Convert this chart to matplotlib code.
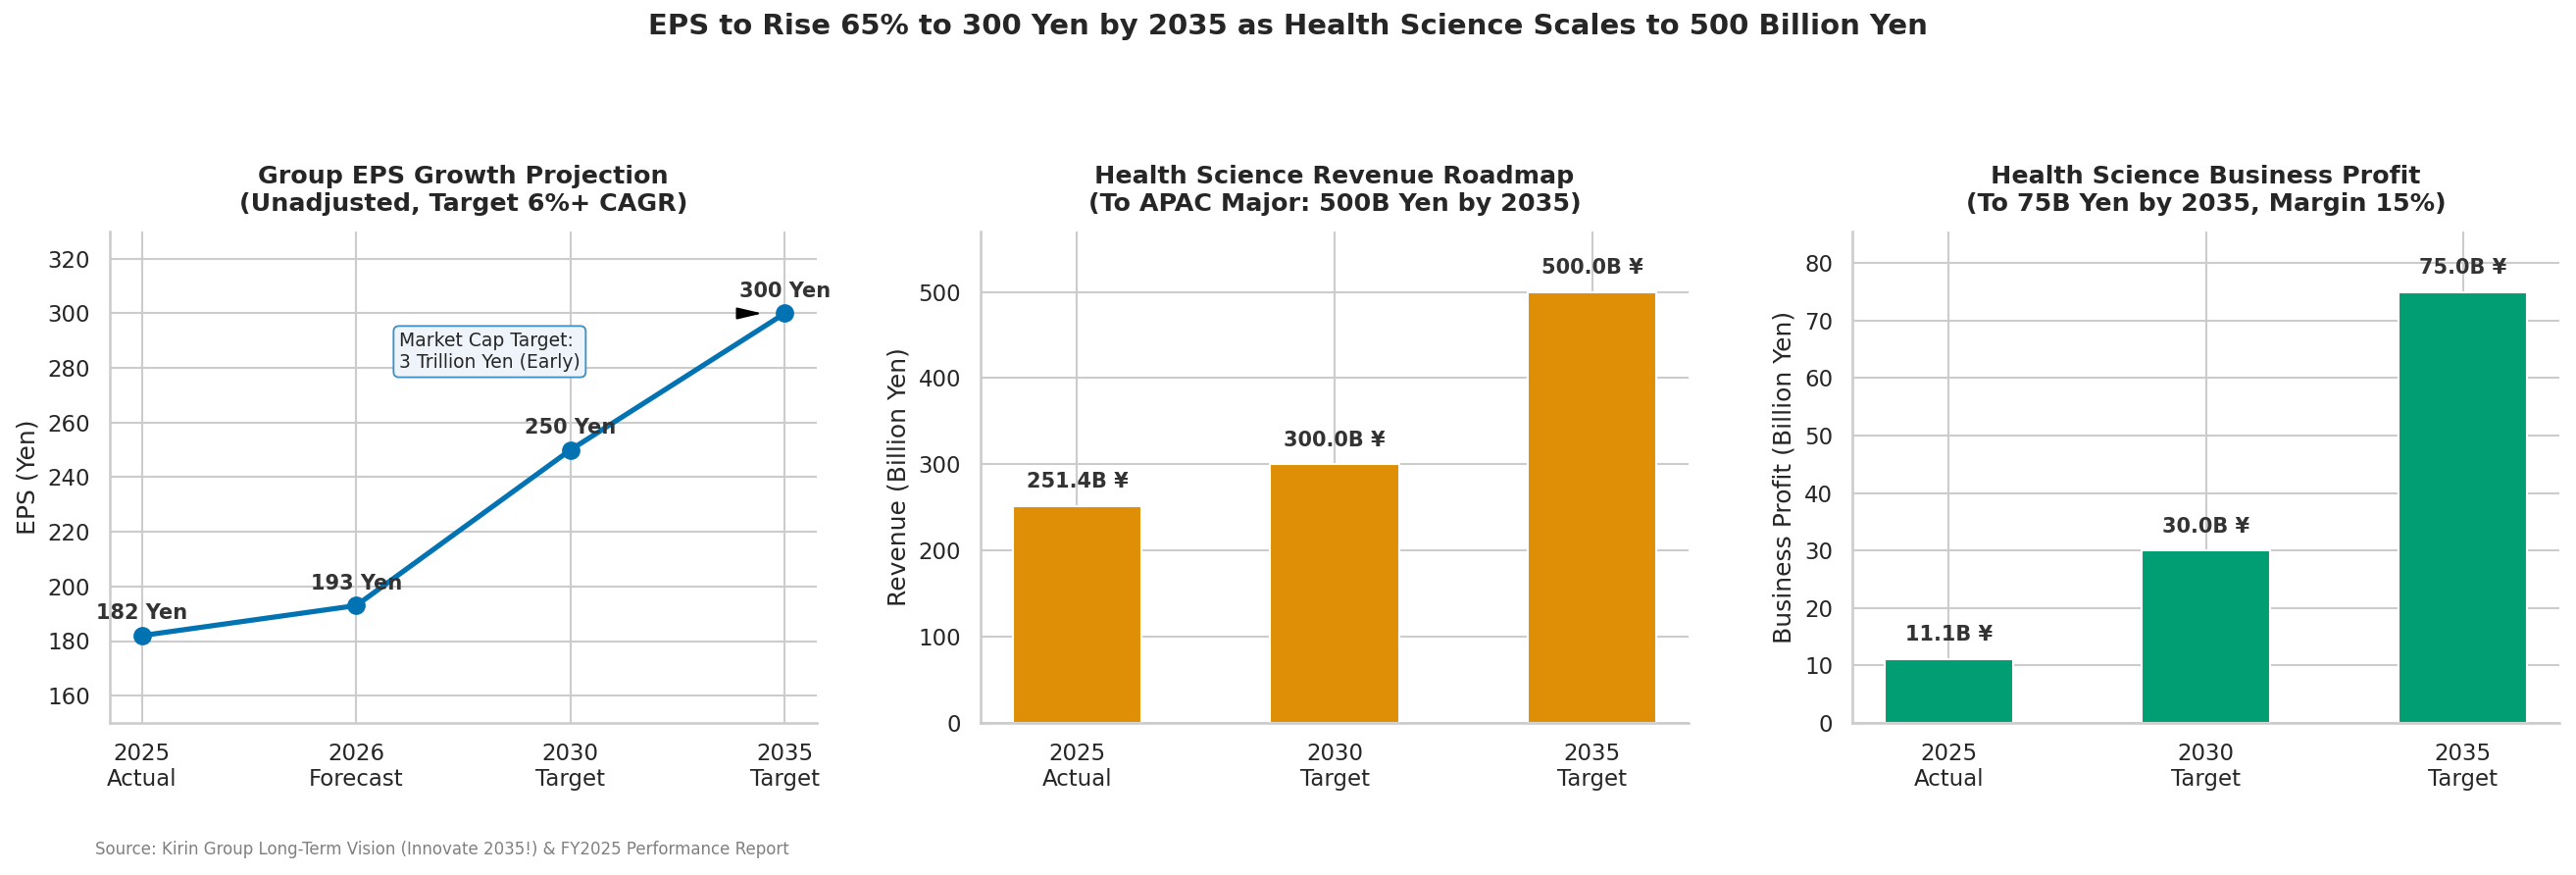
import matplotlib
matplotlib.use("Agg")
import matplotlib.pyplot as plt
import seaborn as sns

sns.set_theme(style="whitegrid")
plt.rcParams['font.family'] = ['DejaVu Sans']

# ---- data ----
eps_labels = ["2025\nActual", "2026\nForecast", "2030\nTarget", "2035\nTarget"]
eps_values = [182, 193, 250, 300]

rev_labels = ["2025\nActual", "2030\nTarget", "2035\nTarget"]
rev_values = [251.4, 300.0, 500.0]

profit_labels = ["2025\nActual", "2030\nTarget", "2035\nTarget"]
profit_values = [11.1, 30.0, 75.0]

BLUE = "#0173B2"
ORANGE = "#DE8F05"
GREEN = "#029E73"
TXT = "#262626"
LBL = "#333333"

W, H, DPI = 2627, 892, 150
fig = plt.figure(figsize=(W / DPI, H / DPI), dpi=DPI)

def px_axes(left, right, top, bottom):
    return fig.add_axes([left / W, 1 - bottom / H, (right - left) / W, (bottom - top) / H])

ax1 = px_axes(112, 833, 236, 737)
ax2 = px_axes(1000, 1722, 236, 737)
ax3 = px_axes(1889, 2610, 236, 737)

title_kw = dict(fontsize=12.2, fontweight="bold", pad=10, color=TXT)

# ---- panel 1: EPS line ----
x1 = list(range(len(eps_values)))
ax1.plot(x1, eps_values, color=BLUE, lw=2.5, marker="o", ms=8, zorder=3)
for xi, v in zip(x1, eps_values):
    ax1.annotate(f"{v} Yen", (xi, v), xytext=(0, 6), textcoords="offset points",
                 ha="center", va="bottom", fontsize=10, fontweight="bold", color=LBL)
ax1.set_xticks(x1)
ax1.set_xticklabels(eps_labels)
ax1.set_xlim(-0.15, 3.15)
ax1.set_ylim(150, 330)
ax1.set_ylabel("EPS (Yen)", fontsize=12)
ax1.set_title("Group EPS Growth Projection\n(Unadjusted, Target 6%+ CAGR)", **title_kw)
ax1.text(1.2, 286, "Market Cap Target:\n3 Trillion Yen (Early)", fontsize=9,
         ha="left", va="center", color=TXT,
         bbox=dict(boxstyle="round,pad=0.3", fc="#EEF4F9", ec="#3F93C6", lw=0.9))
ax1.annotate("", xy=(x1[-1], eps_values[-1]), xytext=(-20, 0), textcoords="offset points",
             arrowprops=dict(arrowstyle="-|>,head_length=0.85,head_width=0.2",
                             color="black", shrinkA=0, shrinkB=11))

# ---- bar panels ----
def bar_panel(ax, labels, values, color, ylabel, title):
    x = list(range(len(values)))
    ax.bar(x, values, width=0.5, color=color, edgecolor="white", linewidth=1, zorder=2)
    for xi, v in zip(x, values):
        ax.annotate(f"{v:.1f}B ¥", (xi, v), xytext=(0, 7), textcoords="offset points",
                    ha="center", va="bottom", fontsize=10, fontweight="bold", color=LBL)
    ax.set_xticks(x)
    ax.set_xticklabels(labels)
    ax.set_ylim(0, max(values) * 1.14)
    ax.set_ylabel(ylabel, fontsize=12)
    ax.set_title(title, **title_kw)

bar_panel(ax2, rev_labels, rev_values, ORANGE, "Revenue (Billion Yen)",
          "Health Science Revenue Roadmap\n(To APAC Major: 500B Yen by 2035)")
bar_panel(ax3, profit_labels, profit_values, GREEN, "Business Profit (Billion Yen)",
          "Health Science Business Profit\n(To 75B Yen by 2035, Margin 15%)")

for ax in (ax1, ax2, ax3):
    ax.tick_params(labelsize=11, colors=TXT)
    ax.yaxis.label.set_color(TXT)
    for s in ("top", "right"):
        ax.spines[s].set_visible(False)
    for s in ("left", "bottom"):
        ax.spines[s].set_color("#cccccc")
        ax.spines[s].set_linewidth(1.25)
    ax.grid(True, color="#cccccc", lw=1)
    ax.set_axisbelow(True)

fig.suptitle("EPS to Rise 65% to 300 Yen by 2035 as Health Science Scales to 500 Billion Yen",
             fontsize=14, fontweight="bold", y=0.985, color=TXT)
fig.text(97 / W, 1 - 866 / H, "Source: Kirin Group Long-Term Vision (Innovate 2035!) & FY2025 Performance Report",
         fontsize=8, color="gray", ha="left", va="center")

fig.savefig("out.png", dpi=DPI)
